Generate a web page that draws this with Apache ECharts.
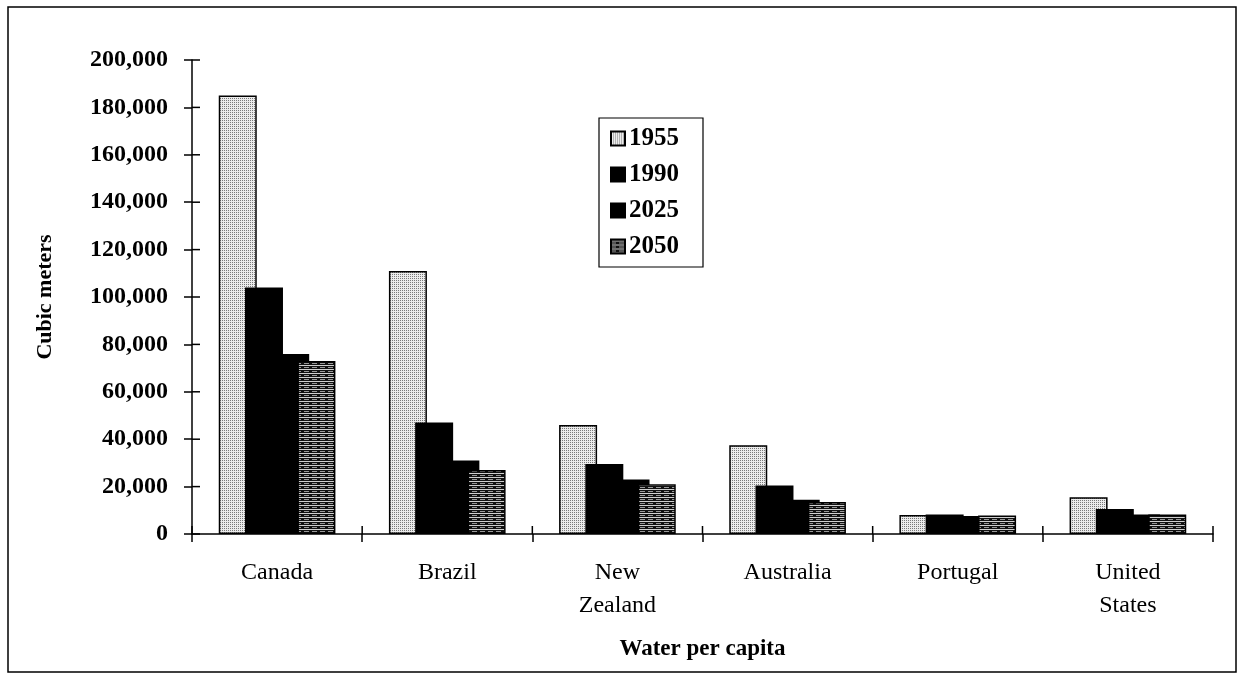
<!DOCTYPE html>
<html>
<head>
<meta charset="utf-8">
<script src="https://cdn.jsdelivr.net/npm/echarts@6/dist/echarts.min.js"></script>
<style>
html,body{margin:0;padding:0;background:#fff;}
#chart{width:1245px;height:679px;}
</style>
</head>
<body>
<div id="chart"></div>
<script>
var categories = ['Canada', 'Brazil', 'New\nZealand', 'Australia', 'Portugal', 'United\nStates'];
var seriesNames = ['1955', '1990', '2025', '2050'];
var v1955 = [185000, 111000, 46000, 37500, 8000, 15500];
var v1990 = [104000, 47000, 29500, 20500, 8200, 10500];
var v2025 = [76000, 31000, 23000, 14500, 7600, 8200];
var v2050 = [73000, 27000, 21000, 13500, 7800, 8200];
var yTicks = [0, 20000, 40000, 60000, 80000, 100000, 120000, 140000, 160000, 180000, 200000];

function dotPattern() {
  var c = document.createElement('canvas');
  c.width = 2; c.height = 2;
  var g = c.getContext('2d');
  g.fillStyle = '#ececec'; g.fillRect(0, 0, 2, 2);
  g.fillStyle = '#7a7a7a';
  g.fillRect(0, 0, 1, 1);
  return c;
}
function linePattern() {
  var c = document.createElement('canvas');
  c.width = 8; c.height = 4;
  var g = c.getContext('2d');
  g.fillStyle = '#111'; g.fillRect(0, 0, 8, 4);
  g.fillStyle = '#d0d0d0'; g.fillRect(0, 1, 8, 1);
  g.fillStyle = '#999'; g.fillRect(0, 3, 5, 1);
  return c;
}
var fills = [
  {image: dotPattern(), repeat: 'repeat'},
  '#000',
  '#000',
  {image: linePattern(), repeat: 'repeat'}
];
var dataSets = [v1955, v1990, v2025, v2050];

var font = 'Liberation Serif';
var TICK = 8;

var chart = echarts.init(document.getElementById('chart'));
var series = seriesNames.map(function (n, i) {
  return {
    name: n,
    type: 'bar',
    data: dataSets[i],
    barWidth: 38,
    barGap: '-31%',
    itemStyle: {color: fills[i], borderColor: '#000', borderWidth: 1.5},
    z: 2 + i
  };
});
// inner halves of the crossing y-axis ticks
series.push({
  type: 'custom',
  name: 'yInnerTicks',
  silent: true,
  z: 10,
  data: yTicks.map(function (v) { return [0, v]; }),
  renderItem: function (params, api) {
    var cs = params.coordSys;
    var y = api.coord([0, api.value(1)])[1];
    return {type: 'line', shape: {x1: cs.x, y1: y, x2: cs.x + TICK, y2: y},
            style: {stroke: '#000', lineWidth: 1.5}};
  }
});
// inner halves of the crossing x-axis ticks (category boundaries)
series.push({
  type: 'custom',
  name: 'xInnerTicks',
  silent: true,
  z: 10,
  data: categories.map(function (c, i) { return [i, 0]; }),
  renderItem: function (params, api) {
    var cs = params.coordSys;
    var i = api.value(0);
    var cx = api.coord([i, 0])[0];
    var bw = api.size([1, 0])[0];
    var yb = cs.y + cs.height;
    var kids = [{type: 'line', shape: {x1: cx - bw / 2, y1: yb, x2: cx - bw / 2, y2: yb - TICK},
                 style: {stroke: '#000', lineWidth: 1.5}}];
    if (i === categories.length - 1) {
      kids.push({type: 'line', shape: {x1: cx + bw / 2, y1: yb, x2: cx + bw / 2, y2: yb - TICK},
                 style: {stroke: '#000', lineWidth: 1.5}});
    }
    return {type: 'group', children: kids};
  }
});

var axisLineStyle = {show: true, lineStyle: {color: '#000', width: 1.5}};
var tickStyle = {color: '#000', width: 1.5};

chart.setOption({
  animation: false,
  backgroundColor: '#fff',
  grid: {left: 192, right: 32, top: 60, bottom: 145, containLabel: false},
  graphic: [{
    type: 'rect',
    shape: {x: 8, y: 7, width: 1228, height: 665},
    style: {fill: 'none', stroke: '#000', lineWidth: 1.5},
    z: 0
  }],
  legend: {
    data: seriesNames,
    orient: 'vertical',
    left: 599,
    top: 118,
    backgroundColor: '#fff',
    borderColor: '#000',
    borderWidth: 1.2,
    borderRadius: 0,
    padding: [8, 24, 8, 11],
    itemWidth: 14,
    itemHeight: 14,
    itemGap: 11,
    icon: 'rect',
    textStyle: {fontFamily: font, fontWeight: 'bold', fontSize: 25, color: '#000', lineHeight: 25, padding: [0, 0, 0, -1]},
    z: 10
  },
  xAxis: {
    type: 'category',
    data: categories,
    position: 'bottom',
    name: 'Water per capita',
    nameLocation: 'middle',
    nameGap: 104,
    nameTextStyle: {fontFamily: font, fontWeight: 'bold', fontSize: 23, color: '#000'},
    axisLine: axisLineStyle,
    axisTick: {show: true, length: TICK, lineStyle: tickStyle},
    axisLabel: {fontFamily: font, fontSize: 24, color: '#000', margin: 22, lineHeight: 33, interval: 0},
    splitLine: {show: false}
  },
  yAxis: {
    type: 'value',
    min: 0,
    max: 200000,
    interval: 20000,
    name: 'Cubic meters',
    nameLocation: 'middle',
    nameGap: 136,
    nameRotate: 90,
    nameTextStyle: {fontFamily: font, fontWeight: 'bold', fontSize: 22, color: '#000'},
    axisLine: axisLineStyle,
    axisTick: {show: true, length: TICK, lineStyle: tickStyle},
    axisLabel: {
      fontFamily: font, fontWeight: 'bold', fontSize: 24, color: '#000', margin: 24,
      formatter: function (v) { return yTicks.indexOf(v) >= 0 ? v.toLocaleString('en-US') : ''; }
    },
    splitLine: {show: false}
  },
  series: series
});
</script>
</body>
</html>
